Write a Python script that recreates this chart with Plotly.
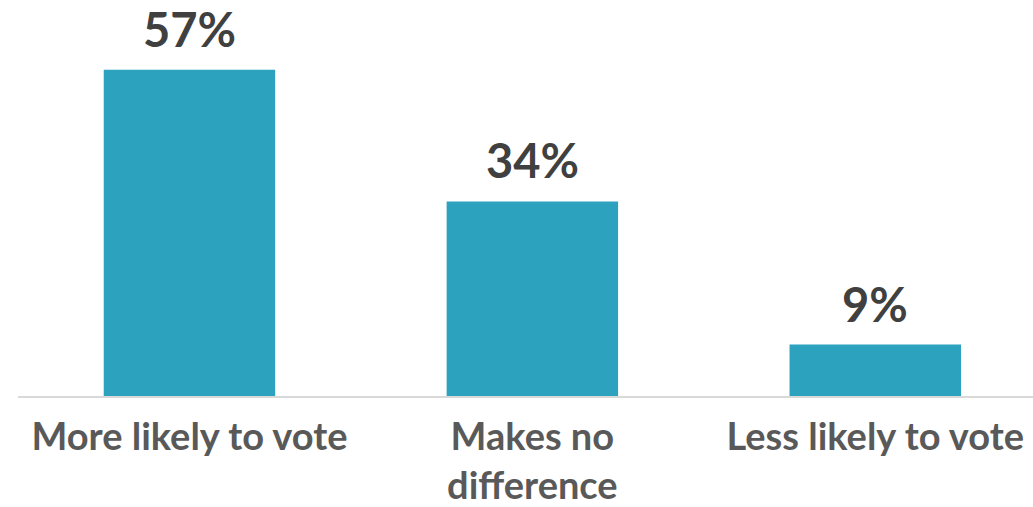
import plotly.graph_objects as go

categories = ["More likely to vote", "Makes no<br>difference", "Less likely to vote"]
values = [57, 34, 9]
value_labels = ["57%", "34%", "9%"]

BAR = "#2CA2BF"

fig = go.Figure()
fig.add_trace(go.Bar(
    x=categories, y=values,
    marker=dict(color=BAR, line=dict(width=0)),
    width=0.5,
    hoverinfo="skip",
))

for c, v, t in zip(categories, values, value_labels):
    fig.add_annotation(
        x=c, y=v, text=t, showarrow=False,
        yanchor="bottom", yshift=11,
        font=dict(family="Lato", size=47, color="#404040", weight="bold"),
    )

fig.update_layout(
    width=1033, height=507,
    margin=dict(l=18, r=0, t=0, b=111, autoexpand=False),
    paper_bgcolor="white", plot_bgcolor="white",
    showlegend=False,
    xaxis=dict(
        type="category",
        range=[-0.5, 2.46],
        automargin=False,
        showline=True, linecolor="#D9D9D9", linewidth=2,
        showgrid=False, ticks="", zeroline=False,
        tickfont=dict(family="Lato", size=38, color="#595959", weight="bold"),
        ticklabelstandoff=6,
    ),
    yaxis=dict(
        range=[0, 69.2], visible=False, showgrid=False, zeroline=False,
        automargin=False,
    ),
)

fig.write_html(
    "out.html",
    config={"displayModeBar": False},
    post_script="document.body.style.margin='0';document.body.style.overflow='hidden';",
)
